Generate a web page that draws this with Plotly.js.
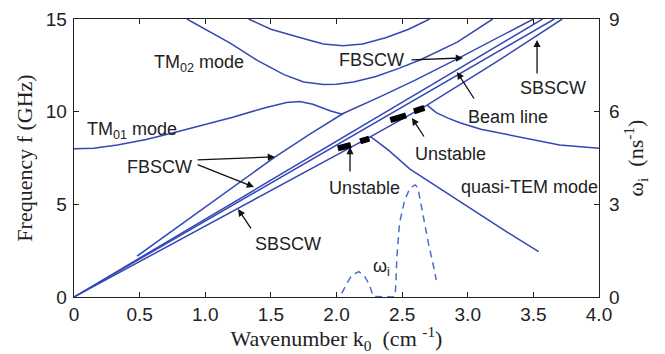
<!DOCTYPE html>
<html>
<head>
<meta charset="utf-8">
<script src="https://cdn.plot.ly/plotly-3.0.1.min.js"></script>
<style>html,body{margin:0;padding:0;background:#fff;}#chart{width:665px;height:354px;}</style>
</head>
<body>
<div id="chart"></div>
<script>
// ---- data (wavenumber k0 in cm^-1, frequency f in GHz, growth rate in ns^-1) ----
const tm01K = [0, 0.15, 0.33, 0.55, 0.78, 1.0, 1.21, 1.45, 1.62, 1.72, 1.82, 1.95, 2.05];
const tm01F = [8.0, 8.03, 8.2, 8.5, 8.9, 9.3, 9.7, 10.2, 10.5, 10.55, 10.4, 10.05, 9.85];

const tm02K = [0.86, 1.0, 1.19, 1.4, 1.6, 1.75, 1.9, 2.0, 2.13, 2.3, 2.48, 2.64, 2.92, 3.19];
const tm02F = [15, 14.45, 13.7, 12.75, 12.0, 11.6, 11.47, 11.48, 11.6, 11.9, 12.35, 12.8, 13.75, 15];

const upperK = [1.33, 1.5, 1.72, 1.9, 2.05, 2.2, 2.38, 2.55, 2.71];
const upperF = [15, 14.45, 14.0, 13.65, 13.55, 13.65, 14.0, 14.45, 15];

const fbK = [0.48, 1.0, 1.53, 1.8, 2.05, 2.33, 2.6, 2.92, 3.2, 3.5];
const fbF = [2.2, 4.85, 7.55, 8.8, 9.9, 10.8, 11.7, 12.85, 13.9, 15.0];

const fb2K = [0, 3.57];
const fb2F = [0, 15];

const beamK = [0, 3.66];
const beamF = [0, 15];

const sbK = [0, 1.25, 2.26, 2.69, 3.2, 3.72];
const sbF = [0, 4.8, 8.65, 10.35, 12.6, 15];

const tmBackK = [2.69, 2.76, 2.85, 2.94, 3.1, 3.4, 3.7, 4.0];
const tmBackF = [10.35, 9.95, 9.65, 9.4, 9.05, 8.62, 8.2, 8.03];

const temK = [2.26, 2.4, 2.56, 2.8, 3.1, 3.3, 3.54];
const temF = [8.65, 7.9, 6.9, 5.8, 4.45, 3.5, 2.45];

const unstableK = [[2.01, 2.11], [2.18, 2.25], [2.41, 2.53], [2.59, 2.67]];
const unstableF = [[8.02, 8.2], [8.4, 8.55], [9.55, 9.8], [10.02, 10.2]];

const wiK = [2.04, 2.08, 2.12, 2.17, 2.21, 2.25, 2.28, 2.36, 2.44, 2.45, 2.46, 2.48, 2.52, 2.56, 2.6, 2.62, 2.66, 2.70, 2.74, 2.76];
const wiW = [0.12, 0.45, 0.72, 0.82, 0.7, 0.4, 0.02, 0, 0, 0.23, 1.3, 2.39, 3.14, 3.53, 3.63, 3.53, 2.6, 1.75, 0.98, 0.55];

const xTicks = [0, 0.5, 1.0, 1.5, 2.0, 2.5, 3.0, 3.5, 4.0];
const xTickText = ['0', '0.5', '1.0', '1.5', '2.0', '2.5', '3.0', '3.5', '4.0'];
const yTicks = [0, 5, 10, 15];
const y2Ticks = [0, 3, 6, 9];

// ---- styles ----
const BLUE = '#3347b5';
const lineStyle = {color: BLUE, width: 1.5};
const SANS = 'Liberation Sans, Arial, sans-serif';
const SERIF = 'Liberation Serif, Times New Roman, serif';

function curve(k, f) {
  return {x: k, y: f, type: 'scatter', mode: 'lines', line: lineStyle, hoverinfo: 'skip', showlegend: false};
}

const traces = [
  curve(tm01K, tm01F),
  curve(tm02K, tm02F),
  curve(upperK, upperF),
  curve(fbK, fbF),
  curve(fb2K, fb2F),
  curve(beamK, beamF),
  curve(sbK, sbF),
  curve(tmBackK, tmBackF),
  curve(temK, temF)
];
unstableK.forEach((k, i) => {
  traces.push({x: k, y: unstableF[i], type: 'scatter', mode: 'lines',
    line: {color: '#000', width: 6}, hoverinfo: 'skip', showlegend: false});
});
traces.push({x: wiK, y: wiW, yaxis: 'y2', type: 'scatter', mode: 'lines',
  line: {color: '#4a6fd0', width: 1.5, dash: '7px,5px'}, hoverinfo: 'skip', showlegend: false});

// ---- labels ----
const labelFont = {family: SANS, size: 18, color: '#222'};
function label(text, x, y) {
  return {text: text, x: x, y: y, xref: 'x', yref: 'y', showarrow: false, font: labelFont,
    xanchor: 'center', yanchor: 'middle'};
}
function arrow(tx, ty, hx, hy) {
  return {text: '', x: hx, y: hy, ax: tx, ay: ty, xref: 'x', yref: 'y', axref: 'x', ayref: 'y',
    showarrow: true, arrowhead: 2, arrowsize: 1.1, arrowwidth: 1.3, arrowcolor: '#111', standoff: 0, startstandoff: 0};
}

const annotations = [
  label('TM<sub>02</sub> mode', 0.95, 12.6),
  label('TM<sub>01</sub> mode', 0.44, 9.0),
  label('FBSCW', 2.27, 12.79),
  label('FBSCW', 0.655, 7.02),
  label('SBSCW', 1.63, 2.86),
  label('SBSCW', 3.65, 11.28),
  label('Beam line', 3.31, 9.71),
  label('Unstable', 2.865, 7.72),
  label('Unstable', 2.217, 5.88),
  label('quasi-TEM mode', 3.467, 5.94),
  label('ω<sub>i</sub>', 2.34, 1.6),
  arrow(2.56, 12.79, 2.964, 12.90),
  arrow(0.93, 7.40, 1.531, 7.56),
  arrow(0.93, 7.18, 1.371, 5.93),
  arrow(1.356, 3.62, 1.25, 4.75),
  arrow(3.528, 11.98, 3.528, 13.87),
  arrow(3.055, 10.63, 2.918, 12.14),
  arrow(2.674, 8.58, 2.575, 9.66),
  arrow(2.103, 6.69, 2.103, 8.09)
];

const axisCommon = {
  showgrid: false, zeroline: false, showline: true, linecolor: '#222', linewidth: 1.3,
  ticks: 'inside', ticklen: 5, tickwidth: 1.2, tickcolor: '#222',
  tickfont: {family: SANS, size: 19, color: '#222'}
};

const layout = {
  width: 665, height: 354,
  margin: {l: 74, r: 66, t: 19, b: 57},
  paper_bgcolor: '#fff', plot_bgcolor: '#fff',
  showlegend: false,
  xaxis: Object.assign({}, axisCommon, {
    range: [0, 4], tickmode: 'array', tickvals: xTicks, ticktext: xTickText, mirror: 'ticks',
    title: {text: 'Wavenumber k<sub>0</sub>  (cm <sup>-1</sup>)', font: {family: SERIF, size: 22, color: '#222'}, standoff: 0}
  }),
  yaxis: Object.assign({}, axisCommon, {
    range: [0, 15], tickmode: 'array', tickvals: yTicks, mirror: false, ticklabelstandoff: 2,
    title: {text: 'Frequency f (GHz)', font: {family: SERIF, size: 22, color: '#222'}, standoff: 7}
  }),
  yaxis2: Object.assign({}, axisCommon, {
    range: [0, 9], tickmode: 'array', tickvals: y2Ticks, overlaying: 'y', side: 'right', anchor: 'x',
    ticklabelstandoff: 5,
    title: {text: 'ω<sub>i</sub>  (ns<sup>-1</sup>)', font: {family: SERIF, size: 22, color: '#222'}, standoff: 5}
  }),
  annotations: annotations
};

Plotly.newPlot('chart', traces, layout, {displayModeBar: false, staticPlot: true});
</script>
</body>
</html>
